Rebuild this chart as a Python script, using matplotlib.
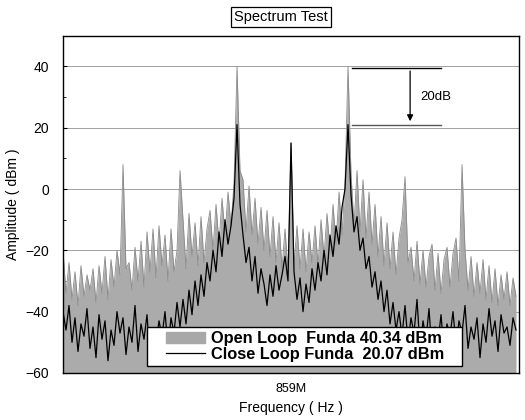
import numpy as np
import matplotlib
matplotlib.use("Agg")
import matplotlib.pyplot as plt
from matplotlib.patches import Patch, Rectangle
from matplotlib.lines import Line2D

plt.rcParams['font.family'] = ['Liberation Sans', 'DejaVu Sans']

# envelope of the open loop spectrum (dBm), one value per screen column
open_loop = [
    -20, -34, -24, -36, -27, -38, -25, -35, -28, -33,
    -26, -37, -25, -34, -22, -36, -23, -32, -20, -28,
    8, -26, -24, -33, -19, -30, -17, -32, -14, -27,
    -13, -29, -12, -25, -15, -30, -13, -27, -20, 6,
    -10, -26, -8, -22, -11, -25, -9, -24, -13, -7,
    -20, -5, -18, -3, -15, -1, -12, 2, 40, 6,
    3, -14, 1, -15, -3, -18, -6, -20, -7, -22,
    -9, -24, -11, -26, -13, -27, 15, -25, -12, -26,
    -13, -27, -14, -24, -12, -25, -10, -22, -8, -20,
    -5, -18, -1, -15, 2, 40, 5, -12, 6, -14,
    3, -16, -1, -18, -5, -22, -9, -25, -11, -26,
    -14, -28, -16, -10, 4, -24, -19, -30, -17, -31,
    -20, -32, -22, -18, -33, -21, -34, -23, -19, -32,
    -21, -16, -30, 8, -20, -33, -22, -35, -24, -34,
    -23, -36, -25, -37, -26, -38, -28, -36, -27, -38, -29, -35,
]

# close loop spectrum (dBm)
close_loop = [
    -40, -46, -38, -50, -42, -53, -44, -48, -39, -52,
    -45, -55, -41, -49, -43, -56, -46, -51, -40, -47,
    -42, -54, -45, -50, -38, -53, -44, -49, -41, -55,
    -46, -51, -43, -48, -40, -52, -42, -47, -37, -45,
    -36, -44, -33, -41, -30, -38, -28, -35, -24, -30,
    -20, -27, -14, -22, -10, -18, -12, -3, 21, -5,
    -15, -24, -19, -30, -22, -34, -26, -31, -38, -28,
    -35, -25, -33, -28, -22, -30, 15, -27, -36, -29,
    -40, -31, -37, -26, -33, -24, -30, -20, -28, -15,
    -22, -12, -18, -6, 0, 21, -2, -14, -9, -20,
    -16, -26, -22, -32, -27, -36, -30, -40, -33, -44,
    -37, -46, -40, -48, -38, -50, -42, -47, -36, -52,
    -43, -49, -39, -54, -45, -50, -41, -53, -44, -48,
    -40, -51, -43, -47, -38, -52, -45, -49, -42, -55,
    -44, -50, -39, -48, -43, -53, -41, -47, -45, -51, -42, -46,
]

open_label = 'Open Loop  Funda 40.34 dBm'
close_label = 'Close Loop Funda  20.07 dBm'
x_tick_pos = [76]
x_tick_labels = ['859M']
y_ticks = [-60, -40, -20, 0, 20, 40]

x = np.arange(len(open_loop))

fig = plt.figure(figsize=(5.25, 4.2), dpi=100)
ax = fig.add_axes([0.12, 0.112, 0.8686, 0.803])

ax.fill_between(x, -60, open_loop, color='#ababab', lw=0, zorder=2)
ax.plot(x, open_loop, color='#8a8a8a', lw=0.6, zorder=2)
ax.plot(x, close_loop, color='black', lw=0.9, zorder=3)

ax.set_xlim(0, 152)
ax.set_ylim(-60, 50)
ax.set_xticks(x_tick_pos)
ax.set_xticklabels(x_tick_labels, fontsize=9)
ax.set_yticks(y_ticks)
ax.set_yticks([-50, -30, -10, 10, 30], minor=True)
ax.tick_params(axis='y', direction='in', length=3, labelsize=10, pad=10)
ax.tick_params(axis='y', which='minor', direction='in', length=2)
ax.tick_params(axis='x', length=0, pad=7)
ax.yaxis.grid(True, color='#a0a0a0', lw=0.7)
ax.set_axisbelow(True)
for s in ax.spines.values():
    s.set_linewidth(1.0)

# 20dB marker
ax.plot([96.3, 126], [39.4, 39.4], color='black', lw=1.0, zorder=4)
ax.plot([96.3, 126], [21, 21], color='#555555', lw=1.0, zorder=4)
ax.annotate('', xy=(115.7, 21.2), xytext=(115.7, 39.4),
            arrowprops=dict(arrowstyle='-|>', color='black', lw=0.9,
                            mutation_scale=9), zorder=4)
ax.text(119, 30, '20dB', fontsize=9.5, va='center', ha='left')

# legend box is wider than its content
ax.add_patch(Rectangle((0.184, 0.0207), 0.691, 0.115, transform=ax.transAxes,
                       facecolor='white', edgecolor='black', lw=1.0, zorder=5))
handles = [Patch(facecolor='#a8a8a8', edgecolor='#a8a8a8'),
           Line2D([0], [0], color='black', lw=0.9)]
leg = ax.legend(handles, [open_label, close_label], loc='center left',
                bbox_to_anchor=(0.226, 0.078), borderaxespad=0,
                frameon=False, prop={'weight': 'bold', 'size': 11.8},
                handlelength=2.4, handletextpad=0.35, borderpad=0,
                labelspacing=0.05)
leg.set_zorder(6)

fig.text(0.535, 0.96, 'Spectrum Test', ha='center', va='center', fontsize=10.5,
         bbox=dict(facecolor='white', edgecolor='black', pad=2, lw=0.9))
fig.text(0.025, 0.514, 'Amplitude ( dBm )', rotation=90, ha='center',
         va='center', fontsize=10)
fig.text(0.554, 0.029, 'Frequency ( Hz )', ha='center', va='center', fontsize=10)

fig.savefig('out.png', dpi=100)
